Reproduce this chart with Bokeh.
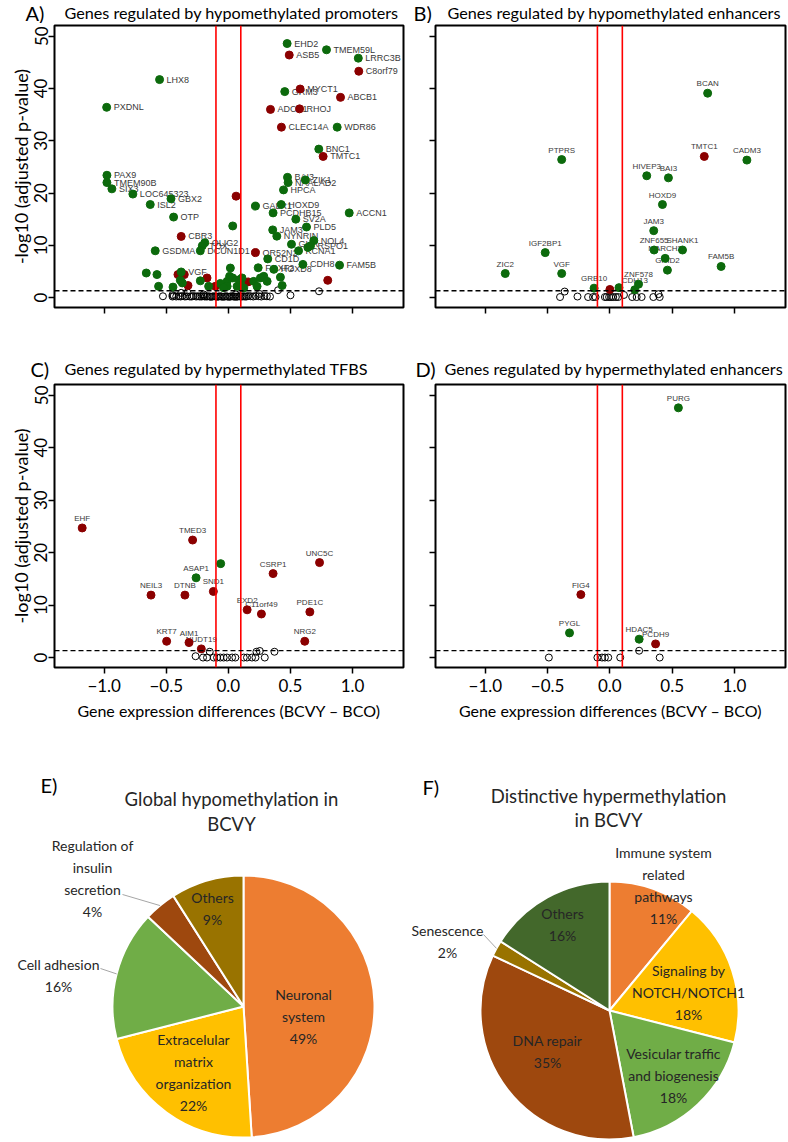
import math
from bokeh.plotting import figure
from bokeh.models import Range1d, FixedTicker, Span, CustomJSTickFormatter
from bokeh.layouts import column, row
from bokeh.core.properties import value
from bokeh.embed import file_html
from bokeh.resources import INLINE

# ---------------- data ----------------
# Panel A: genes regulated by hypomethylated promoters
a_gene = ["EHD2", "ASB5", "TMEM59L", "LRRC3B", "C8orf79", "LHX8", "PXDNL", "GRM3", "MYCT1", "ABCB1",
          "ADCY1", "RHOJ", "CLEC14A", "WDR86", "BNC1", "TMTC1", "PAX9", "TMEM90B", "SIX3", "LOC645323",
          "GBX2", "ISL2", "OTP", "CBR3", "OLIG2", "TOX", "DCUN1D1", "GSDMA", "OR52N2", "GALR1",
          "HOXD9", "BAI3", "ZIK1", "NAALAD2", "HPCA", "PCDHB15", "ACCN1", "SV2A", "PLD5", "JAM3",
          "NYNRIN", "NOL4", "GHR", "RSPO1", "KCNA1", "CD1D", "CDH8", "FAM5B", "FOXF2", "HOXD8", "VGF"]
a_x = [0.473, 0.49, 0.79, 1.046, 1.05, -0.554, -0.98, 0.454, 0.578, 0.903,
       0.339, 0.573, 0.427, 0.876, 0.728, 0.763, -0.978, -0.978, -0.938, -0.769,
       -0.462, -0.629, -0.441, -0.38, -0.19, -0.21, -0.226, -0.589, 0.218, 0.218,
       0.425, 0.476, 0.62, 0.481, 0.444, 0.36, 0.973, 0.543, 0.629, 0.357,
       0.39, 0.688, 0.508, 0.661, 0.565, 0.317, 0.6, 0.895, 0.24, 0.366, -0.38]
a_y = [48.6, 46.4, 47.4, 45.8, 43.3, 41.7, 36.4, 39.4, 39.9, 38.3,
       36.0, 36.1, 32.6, 32.6, 28.4, 27.0, 23.4, 22.0, 20.8, 19.8,
       18.9, 17.8, 15.4, 11.7, 10.5, 9.9, 8.95, 8.95, 8.6, 17.5,
       17.8, 23.0, 22.5, 22.0, 20.6, 16.2, 16.2, 15.0, 13.5, 12.95,
       11.75, 10.9, 10.2, 9.9, 8.95, 7.4, 6.35, 6.2, 5.7, 5.4, 4.9]
a_c = ["g", "r", "g", "g", "r", "g", "g", "g", "r", "r",
       "r", "r", "r", "g", "g", "r", "g", "g", "g", "g",
       "g", "g", "g", "r", "g", "g", "g", "g", "r", "g",
       "g", "g", "g", "g", "g", "g", "g", "g", "g", "g",
       "g", "g", "g", "g", "g", "g", "g", "g", "g", "g", "g"]
a_ux = [0.062, -0.406, -0.355, -0.172, 0.8, 0.159, -0.105, -0.325,
        0.035, -0.661, -0.575, -0.562, -0.446, 0.016, -0.371, 0.035, -0.01, 0.097,
        0.204, 0.258, 0.285, 0.419, 0.433, 0.231, -0.065, -0.159, 0.07, 0.124,
        -0.01, 0.312, -0.387, -0.226, 0.086, 0.64, 0.11, 0.01, -0.04]
a_uy = [19.4, 4.4, 4.4, 3.75, 3.3, 3.0, 2.15, 2.3,
        13.7, 4.7, 4.4, 2.15, 2.0, 5.65, 2.8, 3.75, 3.1, 2.8,
        3.1, 3.75, 4.06, 3.9, 2.3, 2.15, 2.7, 2.15, 2.15, 1.85,
        2.15, 3.1, 3.3, 3.2, 3.4, 9.6, 3.75, 4.06, 1.9]
a_uc = ["r", "r", "r", "r", "r", "r", "r", "r",
        "g", "g", "g", "g", "g", "g", "g", "g", "g", "g",
        "g", "g", "g", "g", "g", "g", "g", "g", "g", "g",
        "g", "g", "g", "g", "g", "g", "g", "g", "g"]
a_nx = [-0.527, -0.45, -0.44, -0.42, -0.40, -0.385, -0.37, -0.35, -0.335, -0.31,
        -0.295, -0.28, -0.26, -0.245, -0.23, -0.215, -0.2, -0.19, -0.175, -0.165,
        -0.15, -0.14, -0.128, -0.115, -0.1, -0.09, -0.078, -0.066, -0.055, -0.043,
        -0.03, -0.02, -0.008, 0.005, 0.015, 0.027, 0.04, 0.05, 0.062, 0.075,
        0.086, 0.097, 0.11, 0.12, 0.133, 0.145, 0.16, 0.18, 0.2, 0.22,
        0.245, 0.265, 0.29, 0.31, 0.335, -0.38, -0.33, -0.45, -0.2, 0.4,
        0.5, 0.73, 0.25, 0.06]
a_ny = [0.25, 0.2, 0.3, 0.2, 0.25, 0.2, 0.3, 0.2, 0.25, 0.2,
        0.2, 0.3, 0.2, 0.25, 0.2, 0.2, 0.3, 0.2, 0.2, 0.25,
        0.2, 0.15, 0.2, 0.25, 0.2, 0.15, 0.2, 0.25, 0.2, 0.15,
        0.2, 0.25, 0.2, 0.15, 0.2, 0.25, 0.2, 0.2, 0.15, 0.2,
        0.25, 0.2, 0.2, 0.25, 0.2, 0.2, 0.3, 0.25, 0.2, 0.3,
        0.25, 0.2, 0.3, 0.25, 0.2, 0.9, 1.0, 0.5, 0.6, 1.4,
        0.44, 1.2, 0.7, 0.6]

# Panel B: genes regulated by hypomethylated enhancers
b_gene = ["BCAN", "TMTC1", "CADM3", "PTPRS", "HIVEP3", "BAI3", "HOXD9", "JAM3", "ZNF655", "SHANK1",
          "MARCH2", "GRID2", "FAM5B", "IGF2BP1", "ZIC2", "VGF", "GRB10", "ZNF578", "CDH13"]
b_x = [0.785, 0.758, 1.10, -0.387, 0.296, 0.47, 0.422, 0.352, 0.355, 0.583,
       0.444, 0.462, 0.893, -0.519, -0.84, -0.387, -0.127, 0.23, 0.2]
b_y = [39.1, 27.0, 26.3, 26.4, 23.3, 22.9, 17.8, 12.8, 9.1, 9.1,
       7.5, 5.25, 5.95, 8.6, 4.6, 4.6, 1.8, 2.55, 1.5]
b_c = ["g", "r", "g", "g", "g", "g", "g", "g", "g", "g",
       "g", "g", "g", "g", "g", "g", "g", "g", "g"]
b_ux = [0.0, 0.073]
b_uy = [1.55, 1.9]
b_uc = ["r", "g"]
b_nx = [-0.363, -0.4, -0.26, -0.175, -0.135, -0.115, -0.04, -0.026, -0.006, 0.01,
        0.027, 0.048, 0.067, 0.113, 0.179, 0.215, 0.255, 0.349, 0.39, 0.4]
b_ny = [1.15, 0.1, 0.2, 0.1, 0.1, 0.1, 0.1, 0.1, 0.1, 0.1,
        0.1, 0.1, 0.1, 0.5, 0.1, 0.1, 0.1, 0.1, 0.65, 0.1]

# Panel C: genes regulated by hypermethylated TFBS
c_gene = ["EHF", "TMED3", "UNC5C", "CSRP1", "ASAP1", "NEIL3", "DTNB", "SND1", "EXD2", "C11orf49",
          "PDE1C", "NRG2", "KRT7", "AIM1", "NUDT19"]
c_x = [-1.177, -0.288, 0.734, 0.36, -0.26, -0.623, -0.35, -0.121, 0.151, 0.266,
       0.656, 0.615, -0.497, -0.317, -0.218]
c_y = [24.7, 22.4, 18.1, 16.0, 15.2, 11.9, 11.9, 12.6, 9.1, 8.3,
       8.7, 3.1, 3.1, 2.85, 1.65]
c_c = ["r", "r", "r", "r", "g", "r", "r", "r", "r", "r",
       "r", "r", "r", "r", "r"]
c_ux = [-0.062]
c_uy = [17.9]
c_uc = ["g"]
c_nx = [-0.264, -0.15, -0.204, -0.172, -0.118, -0.091, -0.065, -0.038, -0.011, 0.03,
        0.056, 0.124, 0.15, 0.19, 0.226, 0.253, 0.293, 0.371, 0.218]
c_ny = [0.25, 1.1, 0.0, 0.0, 0.0, 0.0, 0.0, 0.0, 0.0, 0.0,
        0.0, 0.0, 0.0, 0.0, 1.1, 1.25, 0.0, 1.1, 0.0]

# Panel D: genes regulated by hypermethylated enhancers
d_gene = ["PURG", "FIG4", "PYGL", "HDAC5", "PCDH9"]
d_x = [0.55, -0.233, -0.324, 0.235, 0.367]
d_y = [47.6, 12.0, 4.7, 3.5, 2.6]
d_c = ["g", "r", "g", "g", "r"]
d_ux = []
d_uy = []
d_uc = []
d_nx = [-0.49, -0.1, -0.063, -0.04, -0.013, 0.083, 0.235, 0.4]
d_ny = [0.0, 0.0, 0.0, 0.0, 0.0, 0.0, 1.3, 0.0]

x_ticks = [-1.0, -0.5, 0.0, 0.5, 1.0]
y_ticks = [0, 10, 20, 30, 40, 50]
fc_threshold = 0.1
p_threshold = 0.05

panel_letters = ["A)", "B)", "C)", "D)"]
panel_titles = ["Genes regulated by hypomethylated promoters",
                "Genes regulated by hypomethylated enhancers",
                "Genes regulated by hypermethylated TFBS",
                "Genes regulated by hypermethylated enhancers"]

# Panel E / F pies
e_names = ["Neuronal\nsystem", "Extracelular\nmatrix\norganization", "Cell adhesion",
           "Regulation of\ninsulin\nsecretion", "Others"]
e_pct = [49, 22, 16, 4, 9]
f_names = ["Immune system\nrelated\npathways", "Signaling by\nNOTCH/NOTCH1",
           "Vesicular traffic\nand biogenesis", "DNA repair", "Senescence", "Others"]
f_pct = [11, 18, 18, 35, 2, 16]

# ---------------- style ----------------
FONT = "Lato"
LFONT = "Liberation Sans"
GREEN = "#0c6a0c"
RED = "#8b0000"
COLS = {"g": GREEN, "r": RED}
e_colors = ["#ED7D31", "#FFC000", "#70AD47", "#9E480E", "#997300"]
f_colors = ["#ED7D31", "#FFC000", "#70AD47", "#9E480E", "#997300", "#43682B"]
TOTAL_W = 787


def header(h, letters, letter_x, titles, title_x, y_mid):
    p = figure(width=TOTAL_W, height=h, x_range=Range1d(0, TOTAL_W), y_range=Range1d(0, h),
               output_backend="svg", toolbar_location=None, x_axis_type=None, y_axis_type=None,
               min_border=0)
    p.grid.visible = False
    p.outline_line_color = None
    p.text(x=letter_x, y=[h - y_mid] * len(letters), text=letters, text_align="left",
           text_baseline="middle", text_font=value(FONT), text_font_size=value("20px"),
           text_color="black")
    p.text(x=title_x, y=[h - y_mid] * len(titles), text=titles, text_align="left",
           text_baseline="middle", text_font=value(FONT), text_font_size=value("16.2px"),
           text_color="black")
    return p


def volcano(genes, gx, gy, gc, ux, uy, uc, nx, ny, w, h, bl, br, bt, bb,
            show_ylab, show_xlab, right_text):
    p = figure(width=w, height=h, x_range=Range1d(-1.4, 1.41), y_range=Range1d(-1.9, 52.05),
               output_backend="svg", toolbar_location=None,
               min_border_left=bl, min_border_right=br, min_border_top=bt, min_border_bottom=bb)
    p.grid.visible = False
    p.outline_line_color = "black"
    p.outline_line_width = 2
    p.background_fill_color = "white"
    p.border_fill_color = "white"
    for ax in (p.xaxis[0], p.yaxis[0]):
        ax.axis_line_color = None
        ax.minor_tick_line_color = None
        ax.major_tick_line_color = "black"
        ax.major_tick_line_width = 1.5
        ax.major_tick_in = 0
        ax.major_tick_out = 6
        ax.major_label_text_font = FONT
        ax.major_label_text_color = "black"
        ax.axis_label_text_font = FONT
        ax.axis_label_text_font_style = "normal"
        ax.axis_label_text_color = "black"
    p.xaxis.ticker = FixedTicker(ticks=x_ticks)
    p.yaxis.ticker = FixedTicker(ticks=y_ticks)
    p.yaxis.major_label_orientation = "vertical"
    if show_ylab:
        p.yaxis.major_label_text_font_size = "17px"
        p.yaxis.major_label_standoff = 1
        p.yaxis.axis_label = "-log10 (adjusted p-value)"
        p.yaxis.axis_label_text_font_size = "18px"
        p.yaxis.axis_label_standoff = 0
    else:
        p.yaxis.formatter = CustomJSTickFormatter(code="return '';")
        p.yaxis.major_label_standoff = 0
    if show_xlab:
        p.xaxis.formatter = CustomJSTickFormatter(code="return tick.toFixed(1).replace('-', '\u2212');")
        p.xaxis.major_label_text_font_size = "17px"
        p.xaxis.major_label_standoff = 5
        p.xaxis.axis_label = "Gene expression differences (BCVY \u2013 BCO)"
        p.xaxis.axis_label_text_font_size = "16px"
        p.xaxis.axis_label_standoff = 6
    else:
        p.xaxis.formatter = CustomJSTickFormatter(code="return '';")
        p.xaxis.major_label_standoff = 0

    # gene labels (drawn under the points)
    if right_text:
        p.text(x=gx, y=gy, text=genes, x_offset=7, text_align="left", text_baseline="middle",
               text_font=value(LFONT), text_font_size=value("9px"), text_color="#3a3a3a")
    else:
        p.text(x=gx, y=gy, text=genes, y_offset=-5, text_align="center", text_baseline="bottom",
               text_font=value(LFONT), text_font_size=value("8px"), text_color="#3a3a3a")
    # non significant genes
    p.scatter(x=nx, y=ny, size=7, marker="circle", fill_color=None, line_color="black", line_width=1)
    # significant genes without label
    if ux:
        p.scatter(x=ux, y=uy, size=8, marker="circle", fill_color=[COLS[c] for c in uc],
                  line_color=[COLS[c] for c in uc])
    p.scatter(x=gx, y=gy, size=8, marker="circle", fill_color=[COLS[c] for c in gc],
              line_color=[COLS[c] for c in gc])

    for loc in (-fc_threshold, fc_threshold):
        p.add_layout(Span(location=loc, dimension="height", line_color="red", line_width=1.6))
    p.add_layout(Span(location=-math.log10(p_threshold), dimension="width", line_color="black",
                      line_width=1.3, line_dash="5 3"))
    return p


hAB = header(23, panel_letters[:2], [25, 413], panel_titles[:2], [64, 447], 12)
pA = volcano(a_gene, a_x, a_y, a_c, a_ux, a_uy, a_uc, a_nx, a_ny, 405, 329, 54, 2, 2, 45,
             True, False, True)
pB = volcano(b_gene, b_x, b_y, b_c, b_ux, b_uy, b_uc, b_nx, b_ny, 382, 329, 30, 2, 2, 45,
             False, False, False)
hCD = header(30, panel_letters[2:], [30, 415], panel_titles[2:], [64, 444], 16)
pC = volcano(c_gene, c_x, c_y, c_c, c_ux, c_uy, c_uc, c_nx, c_ny, 405, 355, 54, 2, 2, 70,
             True, True, False)
pD = volcano(d_gene, d_x, d_y, d_c, d_ux, d_uy, d_uc, d_nx, d_ny, 382, 355, 30, 2, 2, 70,
             False, True, False)


def pie(names, pct, colors, w, h, cx, cy, r, letter, letter_xy, title_lines, title_xy,
        label_off, leader_end):
    p = figure(width=w, height=h, x_range=Range1d(0, w), y_range=Range1d(0, h),
               output_backend="svg", toolbar_location=None, x_axis_type=None, y_axis_type=None,
               min_border=0)
    p.grid.visible = False
    p.outline_line_color = None
    p.background_fill_color = "white"
    p.border_fill_color = "white"
    total = float(sum(pct))
    starts, ends, mids = [], [], []
    cum = 0.0
    for v in pct:
        a0 = math.pi / 2 - 2 * math.pi * cum / total
        cum += v
        a1 = math.pi / 2 - 2 * math.pi * cum / total
        starts.append(a0)
        ends.append(a1)
        mids.append((a0 + a1) / 2)
    p.wedge(x=cx, y=cy, radius=r, start_angle=starts, end_angle=ends, direction="clock",
            fill_color=colors, line_color="white", line_width=2)
    # leader lines for outside labels
    for i, end in leader_end.items():
        sx = cx + r * math.cos(mids[i])
        sy = cy + r * math.sin(mids[i])
        p.line(x=[sx, cx + end[0]], y=[sy, cy - end[1]], line_color="#a6a6a6", line_width=1)
    lx = [cx + label_off[i][0] for i in range(len(pct))]
    ly = [cy - label_off[i][1] for i in range(len(pct))]
    txt = [f"{n}\n{v}%" for n, v in zip(names, pct)]
    p.text(x=lx, y=ly, text=txt, text_align="center", text_baseline="middle",
           text_font=value(FONT), text_font_size=value("14px"), text_color="#262626",
           text_line_height=1.3)
    p.text(x=[title_xy[0]] * len(title_lines), y=title_xy[1], text=title_lines,
           text_align="center", text_baseline="middle", text_font=value(FONT),
           text_font_size=value("18.5px"), text_color="#262626")
    p.text(x=[letter_xy[0]], y=[letter_xy[1]], text=[letter], text_align="left",
           text_baseline="middle", text_font=value(FONT), text_font_size=value("20px"),
           text_color="black")
    return p


pE = pie(e_names, e_pct, e_colors, 405, 403, 243, 134, 131, "E)", (40, 356),
         ["Global hypomethylation in", "BCVY"], (231, [342, 317]),
         [(60, 10), (-50, 66), (-185, -31), (-151, -128), (-31, -98)],
         {2: (-143, -38), 3: (-121, -112)})
pF = pie(f_names, f_pct, f_colors, 382, 403, 204, 130, 129, "F)", (17, 354),
         ["Distinctive hypermethylation", "in BCVY"], (203, [345, 321]),
         [(54, -125), (79, -18), (64, 65), (-62, 41), (-162, -69), (-47, -86)],
         {4: (-126, -76)})

layout = column(hAB, row(pA, pB), hCD, row(pC, pD), row(pE, pF))
open("out.html", "w").write(file_html(layout, INLINE))
